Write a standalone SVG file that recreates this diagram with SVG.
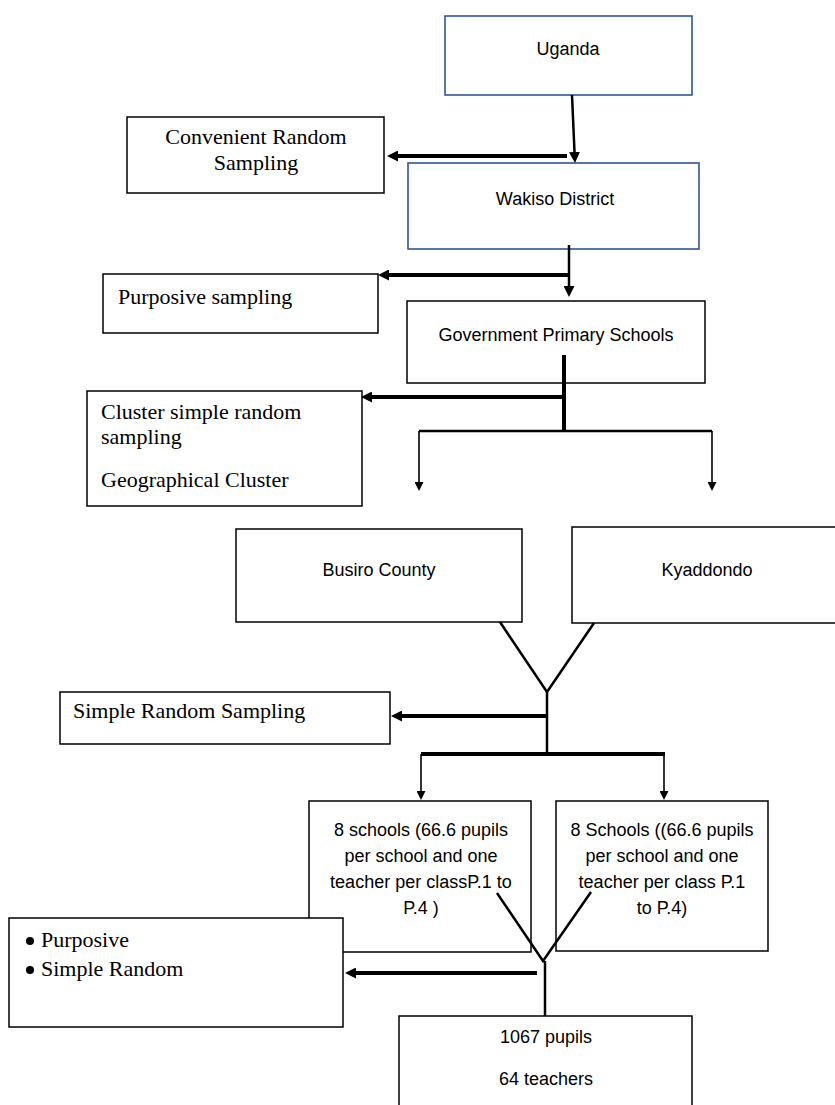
<svg xmlns="http://www.w3.org/2000/svg" width="835" height="1105" viewBox="0 0 835 1105">
<style>
.box{fill:#fff;stroke:#000;stroke-width:1.5}
.blue{fill:#fff;stroke:#2f5597;stroke-width:1.6}
.sans{font-family:"Liberation Sans",Arial,sans-serif;font-size:18px;fill:#000}
.serif{font-family:"Liberation Serif","Times New Roman",serif;font-size:22px;fill:#000}
.mid{text-anchor:middle}
.thick{stroke:#000;stroke-width:4;fill:none}
.med{stroke:#000;stroke-width:2.5;fill:none}
.thin{stroke:#000;stroke-width:1.6;fill:none}
</style>
<defs>
<marker id="hb" viewBox="0 0 10 10" refX="0" refY="5" markerWidth="11" markerHeight="11" markerUnits="userSpaceOnUse" orient="auto"><path d="M0,0 L10,5 L0,10 z" fill="#000"/></marker>
<marker id="hs" viewBox="0 0 10 10" refX="0" refY="5" markerWidth="9" markerHeight="9" markerUnits="userSpaceOnUse" orient="auto"><path d="M0,0 L10,5 L0,10 z" fill="#000"/></marker>
</defs>
<rect width="835" height="1105" fill="#fff"/>
<g id="uganda"><rect class="blue" x="445" y="16" width="247" height="79"/><text class="sans mid" x="568" y="55">Uganda</text></g>
<g id="convenient"><rect class="box" x="127" y="117" width="257" height="76"/><text class="serif mid" x="256" y="144">Convenient Random</text><text class="serif mid" x="256" y="170">Sampling</text></g>
<g id="wakiso"><rect class="blue" x="408" y="163" width="291" height="86"/><text class="sans mid" x="555" y="205">Wakiso District</text></g>
<g id="purposive-sampling"><rect class="box" x="103" y="274" width="275" height="59"/><text class="serif" x="118" y="304">Purposive sampling</text></g>
<g id="gps"><rect class="box" x="407" y="301" width="298" height="82"/><text class="sans mid" x="556" y="341">Government Primary Schools</text></g>
<g id="cluster"><rect class="box" x="87" y="391" width="275" height="115"/><text class="serif" x="101" y="419">Cluster simple random</text><text class="serif" x="101" y="444">sampling</text><text class="serif" x="101" y="487">Geographical Cluster</text></g>
<g id="busiro"><rect class="box" x="236" y="529" width="286" height="93"/><text class="sans mid" x="379" y="576">Busiro County</text></g>
<g id="kyaddondo"><rect class="box" x="572" y="527" width="270" height="96"/><text class="sans mid" x="707" y="576">Kyaddondo</text></g>
<g id="srs"><rect class="box" x="60" y="692" width="330" height="52"/><text class="serif" x="73" y="718">Simple Random Sampling</text></g>
<g id="schools-left"><rect class="box" x="309" y="801" width="222" height="151"/><text class="sans mid" x="421" y="836">8 schools (66.6 pupils</text><text class="sans mid" x="421" y="862">per school and one</text><text class="sans mid" x="421" y="888">teacher per classP.1 to</text><text class="sans mid" x="421" y="914">P.4 )</text></g>
<g id="schools-right"><rect class="box" x="556" y="801" width="212" height="150"/><text class="sans mid" x="662" y="836">8 Schools ((66.6 pupils</text><text class="sans mid" x="662" y="862">per school and one</text><text class="sans mid" x="662" y="888">teacher per class P.1</text><text class="sans mid" x="662" y="914">to P.4)</text></g>
<g id="methods"><rect class="box" x="9" y="918" width="334" height="109"/><circle cx="30" cy="941" r="4"/><text class="serif" x="41" y="947">Purposive</text><circle cx="30" cy="970" r="4"/><text class="serif" x="41" y="976">Simple Random</text></g>
<g id="totals"><rect class="box" x="399" y="1016" width="293" height="100"/><text class="sans mid" x="546" y="1043">1067 pupils</text><text class="sans mid" x="546" y="1085">64 teachers</text></g>
<g id="connectors">
<line class="med" x1="572" y1="95" x2="574.5" y2="152" marker-end="url(#hb)"/>
<line class="thick" x1="567" y1="156" x2="398" y2="156" marker-end="url(#hb)"/>
<line class="med" x1="569" y1="245" x2="569" y2="286" marker-end="url(#hb)"/>
<line class="thick" x1="570" y1="275" x2="389" y2="275" marker-end="url(#hb)"/>
<line class="thick" x1="564" y1="355" x2="564" y2="431"/>
<line class="thick" x1="566" y1="397" x2="372" y2="397" marker-end="url(#hb)"/>
<line class="med" x1="419" y1="431" x2="712" y2="431"/>
<line class="thin" x1="419" y1="431" x2="419" y2="482" marker-end="url(#hs)"/>
<line class="thin" x1="712" y1="431" x2="712" y2="482" marker-end="url(#hs)"/>
<polyline class="med" points="500,622 547,692 594,623"/>
<line class="med" x1="547" y1="692" x2="547" y2="754"/>
<line class="thick" x1="547" y1="716" x2="402" y2="716" marker-end="url(#hb)"/>
<line class="thick" x1="421" y1="754" x2="665" y2="754"/>
<line class="thin" x1="421" y1="754" x2="421" y2="791" marker-end="url(#hs)"/>
<line class="thin" x1="664" y1="754" x2="664" y2="791" marker-end="url(#hs)"/>
<polyline class="med" points="497,893 543,961 591,892"/>
<line class="med" x1="545" y1="961" x2="545" y2="1016"/>
<line class="thick" x1="537" y1="973" x2="356" y2="973" marker-end="url(#hb)"/>
</g>
</svg>
